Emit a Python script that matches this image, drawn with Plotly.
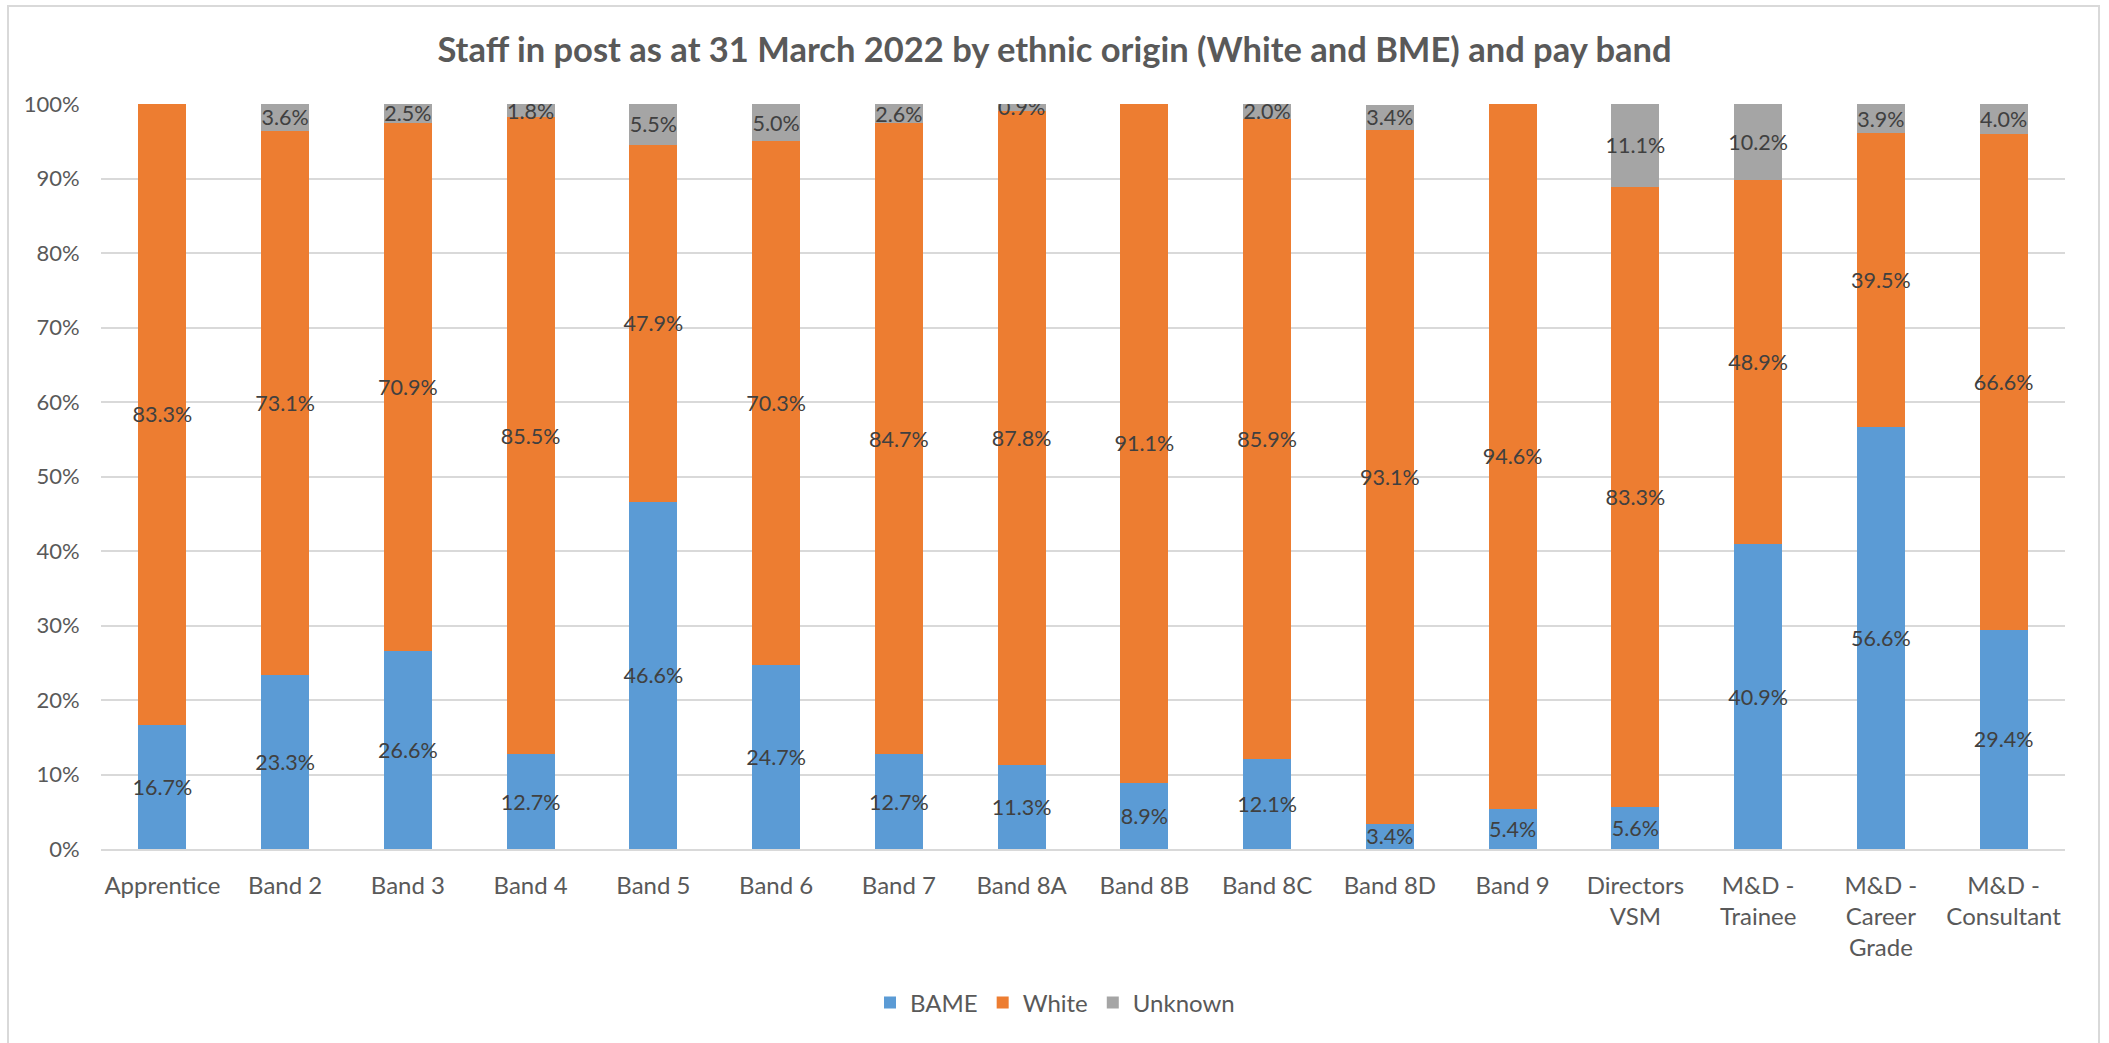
import plotly.graph_objects as go

categories = ["Apprentice", "Band 2", "Band 3", "Band 4", "Band 5", "Band 6", "Band 7",
              "Band 8A", "Band 8B", "Band 8C", "Band 8D", "Band 9", "Directors<br>VSM",
              "M&D -<br>Trainee", "M&D -<br>Career<br>Grade", "M&D -<br>Consultant"]
bame = [16.7, 23.3, 26.6, 12.7, 46.6, 24.7, 12.7, 11.3, 8.9, 12.1, 3.4, 5.4, 5.6, 40.9, 56.6, 29.4]
white = [83.3, 73.1, 70.9, 85.5, 47.9, 70.3, 84.7, 87.8, 91.1, 85.9, 93.1, 94.6, 83.3, 48.9, 39.5, 66.6]
unknown = [0.0, 3.6, 2.5, 1.8, 5.5, 5.0, 2.6, 0.9, 0.0, 2.0, 3.4, 0.0, 11.1, 10.2, 3.9, 4.0]
y_ticks = [0, 10, 20, 30, 40, 50, 60, 70, 80, 90, 100]
y_tick_labels = ["0%", "10%", "20%", "30%", "40%", "50%", "60%", "70%", "80%", "90%", "100%"]

series = [("BAME", bame, "#5B9BD5"), ("White", white, "#ED7D31"), ("Unknown", unknown, "#A5A5A5")]

FONT = "Lato"
fig = go.Figure()
for name, vals, color in series:
    fig.add_trace(go.Bar(
        name=name, x=categories, y=vals,
        marker=dict(color=color, line=dict(width=0)),
        text=[f"{v:.1f}%" if v > 0 else "" for v in vals],
        textposition="inside", insidetextanchor="middle", textangle=0,
        constraintext="none",
        textfont=dict(family=FONT, size=21.5, color="#404040"),
        hoverinfo="skip",
    ))

W, H = 2109, 1043
L, R, T, B = 101, 44, 104, 194
pw, ph = W - L - R, H - T - B

def px_x(p):
    return (p - L) / pw

def px_y(p):
    return (H - B - p) / ph

fig.update_layout(
    barmode="stack", bargap=0.61,
    width=W, height=H,
    margin=dict(l=L, r=R, t=T, b=B),
    paper_bgcolor="white", plot_bgcolor="white",
    font=dict(family=FONT, color="#595959", size=24),
    title=dict(text="<b>Staff in post as at 31 March 2022 by ethnic origin (White and BME) and pay band</b>",
               x=0.5, xanchor="center", y=1 - 50 / H, yanchor="middle",
               font=dict(family=FONT, size=34.5, color="#595959")),
    legend=dict(orientation="h", x=0.5 - 28 / pw, xanchor="center", y=px_y(1003), yanchor="middle",
                font=dict(family=FONT, size=24, color="#595959"), traceorder="normal",
                itemwidth=30),
    showlegend=True,
    shapes=[dict(type="rect", xref="paper", yref="paper",
                 x0=px_x(8), x1=px_x(2099), y0=px_y(1050), y1=px_y(6),
                 line=dict(color="#D9D9D9", width=2), fillcolor="rgba(0,0,0,0)", layer="below")],
)
fig.update_xaxes(showgrid=False, showline=True, linecolor="#D9D9D9", linewidth=2,
                 ticks="outside", ticklen=14, tickcolor="rgba(0,0,0,0)",
                 tickfont=dict(family=FONT, size=24, color="#595959"), fixedrange=True)
fig.update_yaxes(range=[0, 100], tickvals=y_ticks, ticktext=y_tick_labels,
                 showgrid=True, gridcolor="#D9D9D9", gridwidth=2, zeroline=False,
                 showline=False, ticks="outside", ticklen=16, tickcolor="rgba(0,0,0,0)",
                 tickfont=dict(family=FONT, size=22, color="#595959"), fixedrange=True)

fig.write_html("out.html")
